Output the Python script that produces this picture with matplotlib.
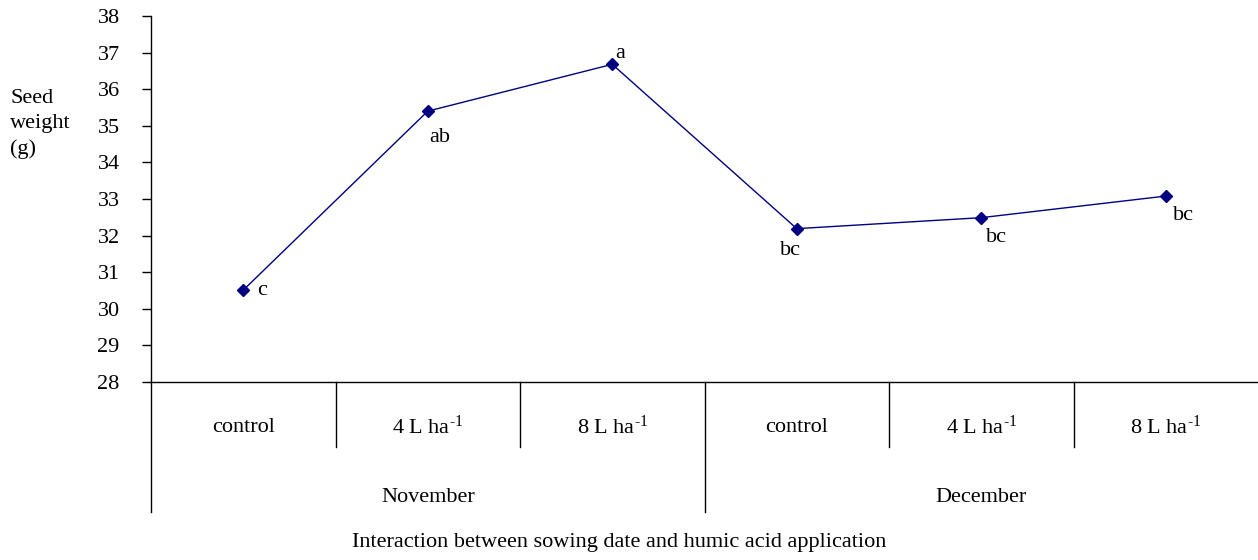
import matplotlib
matplotlib.use("Agg")
import matplotlib.pyplot as plt

# ---- data ----
treatments = ["control", r"4 L ha$^{\text{-1}}$", r"8 L ha$^{\text{-1}}$",
              "control", r"4 L ha$^{\text{-1}}$", r"8 L ha$^{\text{-1}}$"]
months = ["November", "December"]
seed_weight = [30.51, 35.40, 36.68, 32.19, 32.49, 33.08]
letters = ["c", "ab", "a", "bc", "bc", "bc"]
yticks = [28, 29, 30, 31, 32, 33, 34, 35, 36, 37, 38]
ylabel = "Seed\nweight\n(g)"
xlabel = "Interaction between sowing date and humic acid application"

plt.rcParams["font.family"] = ["Liberation Serif", "DejaVu Serif"]
plt.rcParams["mathtext.fontset"] = "custom"
plt.rcParams["mathtext.rm"] = "Liberation Serif"
plt.rcParams["mathtext.default"] = "regular"

W, H = 1258, 560
fig = plt.figure(figsize=(W / 100, H / 100), dpi=100)
x0, x1, ytop, ybot = 151, 1258, 16, 382
ax = fig.add_axes([x0 / W, (H - ybot) / H, (x1 - x0) / W, (ybot - ytop) / H])

xs = [i + 0.5 for i in range(len(seed_weight))]
ax.plot(xs, seed_weight, color="#000080", lw=1.0, marker="D", ms=6.5,
        markerfacecolor="#000080", markeredgecolor="#000080")

offsets = [(14, 0), (12, -26), (8, 11), (-6, -22), (15, -20), (18, -19)]
for x, y, t, off in zip(xs, seed_weight, letters, offsets):
    ha = "left" if t == "c" else "center"
    ax.annotate(t, (x, y), xytext=off, textcoords="offset pixels",
                ha=ha, va="center", fontsize=16)

ax.set_xlim(0, len(seed_weight))
ax.set_ylim(28, 38)
ax.set_yticks(yticks)
ax.set_xticks([])
ax.tick_params(axis="y", direction="out", length=6.5, width=1, pad=16,
               labelsize=16)
for s in ["top", "right"]:
    ax.spines[s].set_visible(False)
ax.spines["left"].set_linewidth(1)
ax.spines["bottom"].set_linewidth(1)

# table below axis
tr = ax.get_xaxis_transform()
axh = ybot - ytop
r1 = -(447 - ybot) / axh
r2 = -(512 - ybot) / axh
for b in [1, 2, 4, 5]:
    ax.plot([b, b], [0, r1], color="black", lw=1, transform=tr, clip_on=False)
for b in [0, 3]:
    ax.plot([b, b], [0, r2], color="black", lw=1, transform=tr, clip_on=False)

t1 = -(427 - ybot) / axh
t2 = -(498 - ybot) / axh
for x, lab in zip(xs, treatments):
    ax.text(x, t1, lab, transform=tr, ha="center", va="center", fontsize=16)
ax.text(1.5, t2, months[0], transform=tr, ha="center", va="center", fontsize=16)
ax.text(4.5, t2, months[1], transform=tr, ha="center", va="center", fontsize=16)

fig.text(619 / W, 1 - 542 / H, xlabel, ha="center", va="center", fontsize=16)
fig.text(10 / W, 1 - 124 / H, ylabel, ha="left", va="center", fontsize=16,
         linespacing=1.4)

fig.savefig("out.png", dpi=100)
